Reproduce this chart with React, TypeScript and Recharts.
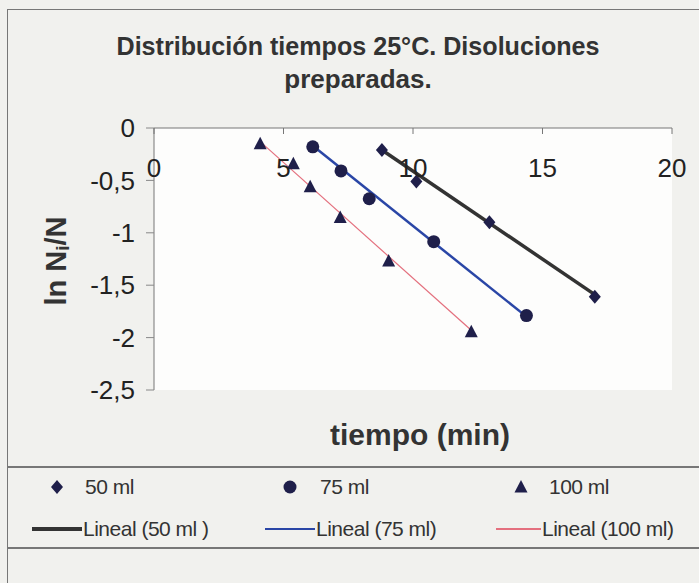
import { ScatterChart, Scatter, XAxis, YAxis } from 'recharts'

// tiempo (min) / ln Ni/N
const T50 = [8.8, 10.13, 12.95, 17.02]
const LN50 = [-0.21, -0.51, -0.9, -1.61]
const T75 = [6.13, 7.22, 8.31, 10.8, 14.38]
const LN75 = [-0.18, -0.41, -0.675, -1.085, -1.79]
const T100 = [4.1, 5.38, 6.03, 7.19, 9.06, 12.25]
const LN100 = [-0.15, -0.34, -0.56, -0.855, -1.27, -1.945]

// trendline end points (Lineal), as drawn
const FIT50_T = [8.8, 17.02]
const FIT50_LN = [-0.21, -1.59]
const FIT75_T = [6.13, 14.38]
const FIT75_LN = [-0.17, -1.8]
const FIT100_T = [4.1, 12.25]
const FIT100_LN = [-0.13, -1.93]

const X_TICKS = [0, 5, 10, 15, 20]
const Y_TICKS = [0, -0.5, -1, -1.5, -2, -2.5]

const zip = (xs: number[], ys: number[]) => xs.map((x, i) => ({ x, y: ys[i] }))

const PLOT_TOP = 128
const MARK = '#1f1f4a'
const FONT = '"Liberation Sans", Arial, sans-serif'

const Diamond = ({ cx, cy }: any) => (
  <path d={`M${cx},${cy - 7} L${cx + 6},${cy} L${cx},${cy + 7} L${cx - 6},${cy} Z`} fill={MARK} />
)
const Dot = ({ cx, cy }: any) => <circle cx={cx} cy={cy} r={6.5} fill={MARK} />
const Tri = ({ cx, cy }: any) => (
  <path d={`M${cx},${cy - 7} L${cx + 6.5},${cy + 5.5} L${cx - 6.5},${cy + 5.5} Z`} fill={MARK} />
)
const NoShape = () => <g />

const XTick = ({ x, payload }: any) => (
  <g>
    <line x1={x} x2={x} y1={PLOT_TOP} y2={PLOT_TOP + 6} stroke="#777" />
    <text x={x} y={PLOT_TOP + 49} textAnchor="middle" fontSize={26} fill="#222" fontFamily={FONT}>
      {payload.value}
    </text>
  </g>
)

const fmt = (v: number) => String(v).replace('.', ',')

export default function App() {
  return (
    <div style={{ position: 'absolute', left: 0, top: 0, width: 699, height: 583, overflow: 'hidden', background: '#f1f1ee', fontFamily: FONT }}>
      <div style={{ position: 'absolute', left: 7, top: 9, width: 720, height: 620, border: '1px solid #777' }} />
      <div style={{ position: 'absolute', left: 8, top: 466, width: 700, borderTop: '2px solid #777' }} />
      <div style={{ position: 'absolute', left: 8, top: 547, width: 700, borderTop: '2px solid #777' }} />
      <div style={{ position: 'absolute', left: 154, top: 128, width: 518, height: 262, background: '#fdfdfc' }} />

      <div style={{ position: 'absolute', left: 0, top: 0 }}>
        <ScatterChart width={699} height={583} margin={{ top: PLOT_TOP - 30, right: 27, bottom: 193, left: 94 }}>
          <XAxis
            type="number"
            dataKey="x"
            orientation="top"
            height={30}
            domain={[0, 20]}
            ticks={X_TICKS}
            tick={<XTick />}
            tickLine={false}
            axisLine={{ stroke: '#777' }}
          />
          <YAxis
            type="number"
            dataKey="y"
            width={60}
            domain={[-2.5, 0]}
            ticks={Y_TICKS}
            tickFormatter={fmt}
            tickSize={8}
            tickMargin={11}
            tick={{ fontSize: 26, fill: '#222', fontFamily: FONT }}
            tickLine={{ stroke: '#888' }}
            axisLine={{ stroke: '#777' }}
          />
          <Scatter data={zip(FIT100_T, FIT100_LN)} line={{ stroke: '#e4707e', strokeWidth: 1.2 }} shape={NoShape} isAnimationActive={false} />
          <Scatter data={zip(FIT75_T, FIT75_LN)} line={{ stroke: '#2a46a6', strokeWidth: 2.5 }} shape={NoShape} isAnimationActive={false} />
          <Scatter data={zip(FIT50_T, FIT50_LN)} line={{ stroke: '#333333', strokeWidth: 3.5 }} shape={NoShape} isAnimationActive={false} />
          <Scatter data={zip(T50, LN50)} shape={Diamond} isAnimationActive={false} />
          <Scatter data={zip(T75, LN75)} shape={Dot} isAnimationActive={false} />
          <Scatter data={zip(T100, LN100)} shape={Tri} isAnimationActive={false} />
        </ScatterChart>
      </div>

      <svg width={699} height={583} style={{ position: 'absolute', left: 0, top: 0, pointerEvents: 'none' }}>
        <g fontFamily={FONT} fontWeight="bold" fill="#333">
          <text x={358} y={55} textAnchor="middle" fontSize={26} textLength={483} lengthAdjust="spacingAndGlyphs">
            Distribución tiempos 25°C. Disoluciones
          </text>
          <text x={358} y={88} textAnchor="middle" fontSize={26}>
            preparadas.
          </text>
          <text x={420} y={445} textAnchor="middle" fontSize={29} textLength={180} lengthAdjust="spacingAndGlyphs">
            tiempo (min)
          </text>
          <text x={56} y={261} textAnchor="middle" dominantBaseline="central" fontSize={29} transform="rotate(-90 56 261)">
            ln N<tspan fontSize={19} dy={6}>i</tspan><tspan dy={-6}>/N</tspan>
          </text>
        </g>
        <g fontFamily={FONT} fontSize={21} fill="#333" letterSpacing={-0.5}>
          <path d="M57,480 L63,487 L57,494 L51,487 Z" fill={MARK} />
          <text x={85} y={494}>50 ml</text>
          <circle cx={290} cy={487} r={6.5} fill={MARK} />
          <text x={320} y={494}>75 ml</text>
          <path d="M521,480 L527.5,492.5 L514.5,492.5 Z" fill={MARK} />
          <text x={549} y={494}>100 ml</text>

          <line x1={32} x2={82} y1={529} y2={529} stroke="#333" strokeWidth={4} />
          <text x={83} y={536}>Lineal (50 ml )</text>
          <line x1={265} x2={315} y1={529} y2={529} stroke="#2a46a6" strokeWidth={2} />
          <text x={316} y={536}>Lineal (75 ml)</text>
          <line x1={496} x2={541} y1={529} y2={529} stroke="#e4707e" strokeWidth={2} />
          <text x={542} y={536}>Lineal (100 ml)</text>
        </g>
      </svg>
    </div>
  )
}
